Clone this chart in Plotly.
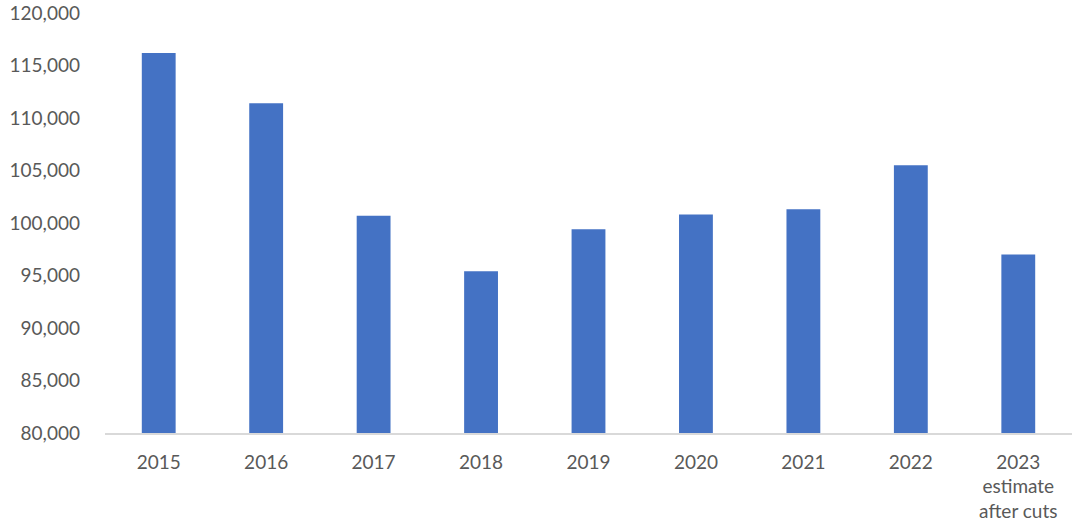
import plotly.graph_objects as go

categories = ["2015", "2016", "2017", "2018", "2019", "2020", "2021", "2022", "2023<br>estimate<br>after cuts"]
values = [116200, 111400, 100700, 95400, 99400, 100800, 101300, 105500, 97000]
y_ticks = [80000, 85000, 90000, 95000, 100000, 105000, 110000, 115000, 120000]
y_tick_labels = [f"{v:,}" for v in y_ticks]

fig = go.Figure(
    go.Bar(
        x=categories,
        y=values,
        marker=dict(color="#4472C4", line=dict(width=0)),
        hoverinfo="skip",
    )
)

fig.update_layout(
    width=1080,
    height=532,
    margin=dict(l=105, r=8, t=13, b=99),
    paper_bgcolor="white",
    plot_bgcolor="white",
    bargap=0.685,
    showlegend=False,
    font=dict(family="Lato, Open Sans, sans-serif", size=19, color="#595959"),
)
fig.update_xaxes(
    showline=True,
    linecolor="#D9D9D9",
    linewidth=1.5,
    showgrid=False,
    ticks="",
    tickfont=dict(size=19, color="#595959"),
    ticklabelstandoff=11,
    automargin=False,
)
fig.update_yaxes(
    range=[80000, 120000],
    tickvals=y_ticks,
    ticktext=y_tick_labels,
    showgrid=False,
    zeroline=False,
    showline=False,
    ticks="",
    tickfont=dict(size=19, color="#595959"),
    ticklabelstandoff=24,
    ticklabeloverflow="allow",
    automargin=False,
)

fig.write_html(
    "out.html",
    config={"displayModeBar": False},
    post_script="document.body.style.margin='0';document.body.style.overflow='hidden';",
)
